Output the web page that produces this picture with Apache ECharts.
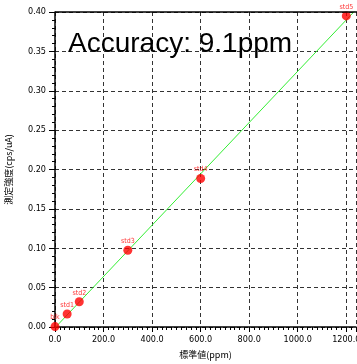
<!DOCTYPE html>
<html><head><meta charset="utf-8">
<script src="https://cdn.jsdelivr.net/npm/echarts@6/dist/echarts.min.js"></script>
<style>html,body{margin:0;padding:0;background:#fff}#c{width:357px;height:364px}</style>
</head><body><div id="c"></div>
<script>
const stdPpm = [0, 50, 100, 300, 600, 1200];
const measured = [0.0005, 0.0165, 0.032, 0.0975, 0.1885, 0.395];
const pointLabels = ['blk', 'std1', 'std2', 'std3', 'std4', 'std5'];
const fitX = [0, 1240];
const fitY = [-0.001, 0.403];
const xTicks = [0, 200, 400, 600, 800, 1000, 1200];
const yTicks = [0, 0.05, 0.10, 0.15, 0.20, 0.25, 0.30, 0.35, 0.40];
const titleText = 'Accuracy: 9.1ppm';

const lblFont = '"DejaVu Sans Condensed", "Liberation Sans Narrow", sans-serif';
const chart = echarts.init(document.getElementById('c'), null, {renderer: 'canvas'});
chart.setOption({
  animation: false,
  backgroundColor: '#fff',
  title: {text: titleText, left: 68, top: 30, padding: 0,
    textStyle: {fontSize: 28, fontWeight: 'normal', color: '#000', fontFamily: 'Liberation Sans, Arial, sans-serif'}},
  grid: {left: 55, right: 1, top: 12, bottom: 37, containLabel: false, outerBoundsMode: 'none'},
  xAxis: {type: 'value', min: 0, max: 1240, interval: 200,
    name: '標準値(ppm)', nameLocation: 'middle', nameGap: 23,
    nameTextStyle: {fontSize: 9, color: '#000', fontFamily: '"Noto Sans CJK JP", sans-serif'},
    axisLine: {lineStyle: {color: '#000', width: 1.5}},
    axisTick: {show: true, length: 5, lineStyle: {color: '#000'}},
    minorTick: {show: true, splitNumber: 10, length: 3, lineStyle: {color: '#000'}},
    axisLabel: {fontSize: 9, color: '#000', margin: 8, fontFamily: lblFont,
      formatter: v => xTicks.includes(v) ? v.toFixed(1) : ''},
    splitLine: {show: true, lineStyle: {color: '#333', type: [4, 3], width: 1}}
  },
  yAxis: {type: 'value', min: 0, max: 0.40, interval: 0.05,
    name: '測定強度(cps/uA)', nameLocation: 'middle', nameGap: 42, nameRotate: 90,
    nameTextStyle: {fontSize: 9, color: '#000', fontFamily: '"Noto Sans CJK JP", sans-serif'},
    axisLine: {show: true, lineStyle: {color: '#000', width: 1.5}},
    axisTick: {show: true, length: 6, lineStyle: {color: '#000'}},
    minorTick: {show: true, splitNumber: 5, length: 3, lineStyle: {color: '#000'}},
    axisLabel: {fontSize: 9, color: '#000', margin: 9, fontFamily: lblFont,
      formatter: v => yTicks.some(t => Math.abs(t - v) < 1e-9) ? v.toFixed(2) : ''},
    splitLine: {show: true, lineStyle: {color: '#333', type: [4, 3], width: 1}}
  },
  series: [
    {type: 'line', data: fitX.map((x, i) => [x, fitY[i]]), symbol: 'none',
      lineStyle: {color: '#33ee33', width: 1}, z: 2, silent: true},
    {type: 'scatter', data: stdPpm.map((x, i) => [x, measured[i]]),
      symbol: 'circle', symbolSize: 9, itemStyle: {color: '#ff0000'}, z: 3,
      label: {show: true, position: 'top', distance: 1, fontSize: 7, color: '#ff0000',
        fontFamily: lblFont, formatter: p => pointLabels[p.dataIndex]}}
  ],
  graphic: [{type: 'line', shape: {x1: 55, y1: 12, x2: 357, y2: 12},
    style: {stroke: '#000', lineWidth: 1.5}, z: 5}]
});
</script></body></html>
